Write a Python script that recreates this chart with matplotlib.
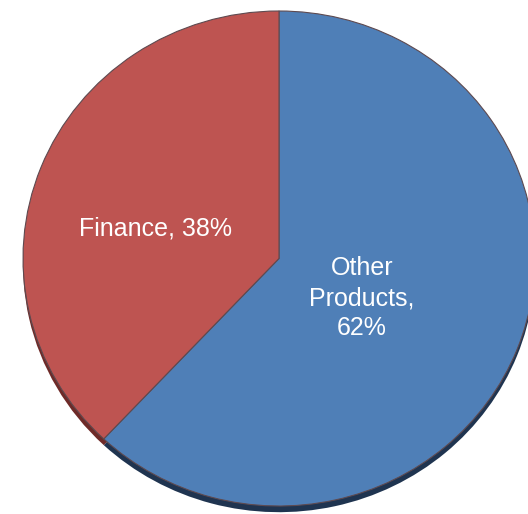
import matplotlib
matplotlib.use("Agg")
import matplotlib.pyplot as plt

categories = ["Other Products", "Finance"]
shares = [62, 38]
label_texts = ["Other\nProducts,\n62%", "Finance, 38%"]
colors = ["#4F7FB7", "#BE5451"]
shadow_colors = ["#1F3450", "#6E2A28"]

W, H = 528, 514
fig = plt.figure(figsize=(W / 100, H / 100), dpi=100)
fig.patch.set_facecolor("white")

left_px, right_px, top_px, bottom_px = 23, 535, 11, 506
ax = fig.add_axes([left_px / W, 1 - bottom_px / H,
                   (right_px - left_px) / W, (bottom_px - top_px) / H])

ax.pie(shares, colors=shadow_colors, startangle=90, counterclock=False,
       radius=1.0, center=(0.0, -0.025), frame=True,
       wedgeprops=dict(linewidth=0))
wedges, _ = ax.pie(shares, colors=colors, startangle=90, counterclock=False,
                   radius=1.0, center=(0, 0), frame=True,
                   wedgeprops=dict(linewidth=0.8, edgecolor="#5E4A50"))
ax.set_xlim(-1, 1)
ax.set_ylim(-1, 1)
ax.set_aspect("auto")
ax.axis("off")

label_pos = [(0.324, -0.16), (-0.484, 0.121)]
for txt, (x, y) in zip(label_texts, label_pos):
    ax.text(x, y, txt, ha="center", va="center", color="white",
            fontsize=18, family="Liberation Sans", linespacing=1.3)

fig.savefig("out.png", dpi=100)
